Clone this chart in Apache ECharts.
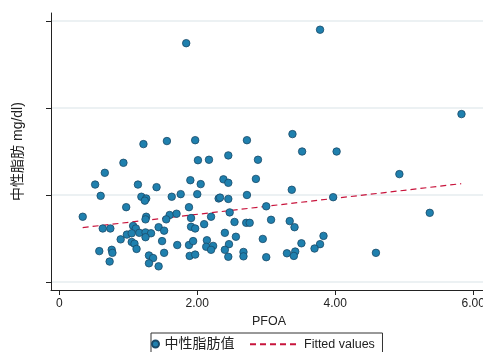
<!DOCTYPE html>
<html><head><meta charset="utf-8">
<script src="https://cdn.jsdelivr.net/npm/echarts@6/dist/echarts.min.js"></script>
<style>html,body{margin:0;padding:0;background:#fff}#c{width:483px;height:352px}</style>
</head><body><div id="c"></div>
<script>
const pfoa = [
  1.22,1.56,1.97,2.72,0.93,0.66,2.01,2.17,2.45,2.88,
  0.52,1.14,1.41,1.90,2.05,2.38,2.45,2.85,0.60,1.19,
  1.26,1.24,1.63,1.76,2.00,2.31,2.33,2.45,2.72,0.97,
  1.88,3.00,0.34,1.26,1.60,1.70,2.47,1.25,1.55,1.91,
  2.20,3.07,0.63,0.74,1.07,1.11,1.44,1.52,1.91,1.97,
  2.10,2.54,2.71,2.76,0.98,1.05,1.16,1.25,1.33,1.25,
  0.89,1.05,1.09,1.49,1.71,1.88,1.94,2.14,2.13,2.23,
  2.40,2.56,2.46,2.95,1.12,0.58,0.76,0.77,2.20,2.40,
  1.52,2.67,1.30,1.36,1.89,1.97,2.45,2.67,3.00,0.73,
  1.30,1.44,3.78,5.83,3.38,3.52,4.02,4.93,3.37,3.97,
  5.37,3.34,3.41,3.83,3.51,3.78,3.70,3.30,3.42,3.40,
  4.59,1.84
];
const triglyceride = [
  317,324,326,326,274,251,280,281,291,281,
  224,224,218,234,225,236,228,237,198,196,
  192,187,196,202,202,192,194,191,200,172,
  172,174,150,150,154,157,160,144,144,147,
  150,143,123,123,129,123,126,118,127,123,
  133,138,136,136,109,112,113,114,112,103,
  98,92,88,94,85,85,94,96,81,83,
  113,104,87,99,76,71,74,67,74,74,
  67,69,61,55,60,63,58,59,57,47,
  43,36,580,386,340,300,300,248,212,195,
  159,140,126,106,89,87,77,66,70,60,
  67,549
];
const fitX = [0.339, 5.826];
const fitY = [125, 226];
const xTicks = [0, 2, 4, 6];
const xTickLabels = ['0', '2.00', '4.00', '6.00'];
const yTicks = [0, 200, 400, 600];
const seriesNames = ['中性脂肪值', 'Fitted values'];

const scatterData = pfoa.map((v, i) => [v, triglyceride[i]]);
const fitData = fitX.map((v, i) => [v, fitY[i]]);
const font = 'Liberation Sans, Arial, Noto Sans CJK JP, sans-serif';

const chart = echarts.init(document.getElementById('c'), null, {renderer: 'canvas'});
chart.setOption({
  animation: false,
  backgroundColor: '#fff',
  textStyle: {fontFamily: font, color: '#222'},
  grid: {left: 51, top: 13, width: 436, height: 277, containLabel: false, outerBoundsMode: 'none'},
  xAxis: {
    type: 'value', min: -0.12, max: 6.2,
    axisLine: {onZero: false, lineStyle: {color: '#222', width: 1}},
    axisTick: {customValues: xTicks, length: 5, lineStyle: {color: '#222'}},
    axisLabel: {customValues: xTicks, margin: 8, fontSize: 12, color: '#222', fontFamily: font,
      formatter: v => xTickLabels[xTicks.indexOf(v)] ?? ''},
    splitLine: {show: false},
    name: 'PFOA', nameLocation: 'middle', nameGap: 24,
    nameTextStyle: {fontSize: 12.5, color: '#222', fontFamily: font}
  },
  yAxis: {
    type: 'value', min: -18.4, max: 618.4,
    axisLine: {onZero: false, lineStyle: {color: '#222', width: 1}},
    axisTick: {customValues: yTicks, length: 5, lineStyle: {color: '#222'}},
    axisLabel: {show: false},
    splitLine: {show: true, lineStyle: {color: '#e6ecef', width: 1.5}},
    name: '中性脂肪 mg/dl)', nameLocation: 'middle', nameGap: 26,
    nameTextStyle: {fontSize: 14, color: '#222', fontFamily: font}
  },
  legend: [
    {
      data: [seriesNames[0]], left: 151, top: 333, orient: 'horizontal',
      padding: [4, 148, 10, 0], itemWidth: 8, itemHeight: 7,
      borderColor: '#333', borderWidth: 1, borderRadius: 0,
      textStyle: {fontSize: 14, color: '#222', fontFamily: font}
    },
    {
      data: [seriesNames[1]], left: 249, top: 334, orient: 'horizontal',
      padding: [4, 0, 10, 0], itemWidth: 49, itemHeight: 10,
      itemStyle: {opacity: 0, color: 'rgba(0,0,0,0)', borderColor: 'rgba(0,0,0,0)', borderWidth: 0},
      textStyle: {fontSize: 12.5, color: '#222', fontFamily: font}
    }
  ],
  series: [
    {
      name: seriesNames[1], type: 'line', data: fitData, showSymbol: false, symbol: 'none',
      lineStyle: {color: '#c8143c', width: 1.2, type: [6, 4]},
      itemStyle: {color: '#c8143c'}, z: 2
    },
    {
      name: seriesNames[0], type: 'scatter', data: scatterData, symbolSize: 7.5,
      itemStyle: {color: '#1f80ae', borderColor: '#1a4a68', borderWidth: 0.8, opacity: 1}, z: 3
    }
  ]
});
</script>
</body></html>
